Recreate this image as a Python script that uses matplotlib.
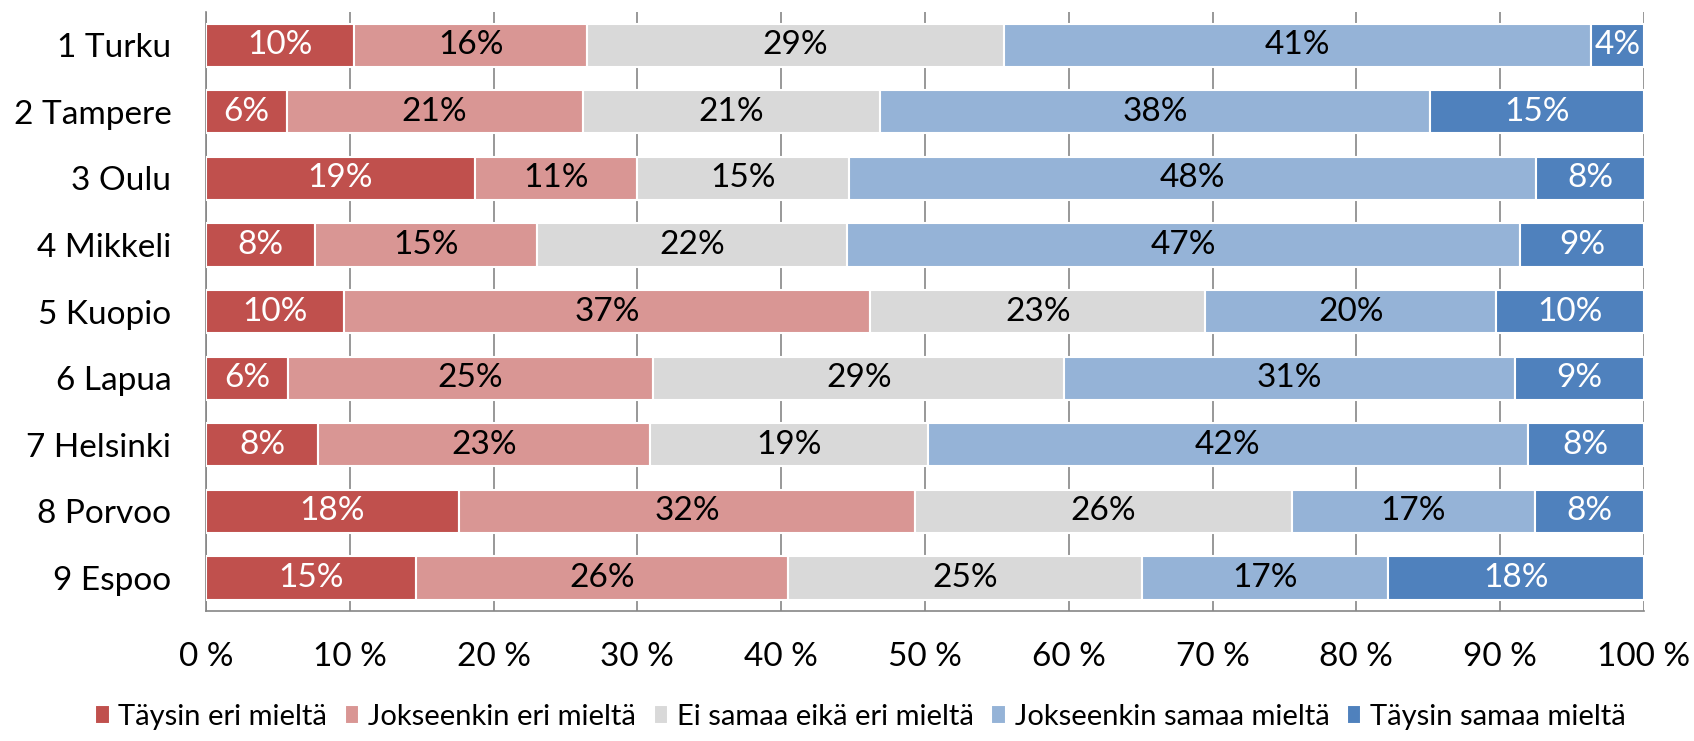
import matplotlib
matplotlib.use("Agg")
import matplotlib.pyplot as plt
import numpy as np

categories = ["1 Turku", "2 Tampere", "3 Oulu", "4 Mikkeli", "5 Kuopio",
              "6 Lapua", "7 Helsinki", "8 Porvoo", "9 Espoo"]
series_names = ["Täysin eri mieltä", "Jokseenkin eri mieltä", "Ei samaa eikä eri mieltä",
                "Jokseenkin samaa mieltä", "Täysin samaa mieltä"]
taysin_eri = [10.3, 5.6, 18.7, 7.6, 9.6, 5.7, 7.8, 17.6, 14.6]
jokseenkin_eri = [16.2, 20.6, 11.3, 15.4, 36.6, 25.4, 23.1, 31.7, 25.9]
ei_samaa = [29.0, 20.7, 14.7, 21.6, 23.3, 28.6, 19.3, 26.2, 24.6]
jokseenkin_samaa = [40.8, 38.2, 47.8, 46.8, 20.2, 31.3, 41.7, 16.9, 17.1]
taysin_samaa = [3.7, 14.9, 7.6, 8.6, 10.3, 9.0, 8.1, 7.6, 17.8]
xtick_labels = ["0 %", "10 %", "20 %", "30 %", "40 %", "50 %", "60 %", "70 %", "80 %", "90 %", "100 %"]

colors = ["#C0504D", "#D99694", "#D9D9D9", "#95B3D7", "#4F81BD"]
text_colors = ["white", "black", "black", "black", "white"]

plt.rcParams['font.family'] = ['Lato', 'DejaVu Sans']

fig = plt.figure(figsize=(16.94, 7.41), dpi=100)
ax = fig.add_axes([0.1216, 0.175, 0.9705 - 0.1216, 0.984 - 0.175])

data = [taysin_eri, jokseenkin_eri, ei_samaa, jokseenkin_samaa, taysin_samaa]
y = np.arange(len(categories))
left = np.zeros(len(categories))
for vals, name, c, tc in zip(data, series_names, colors, text_colors):
    vals = np.array(vals)
    ax.barh(y, vals, left=left, height=0.65, color=c, edgecolor='white',
            linewidth=1.5, label=name, zorder=3)
    for yi, l, v in zip(y, left, vals):
        ax.text(l + v / 2, yi, f"{v:.0f}%", ha='center', va='center',
                color=tc, fontsize=24, zorder=4)
    left += vals

ax.set_xlim(0, 100)
ax.set_ylim(len(categories) - 0.5, -0.5)
ax.set_yticks(y)
ax.set_yticklabels(categories, fontsize=24)
ax.set_xticks(np.arange(0, 101, 10))
ax.set_xticklabels(xtick_labels, fontsize=24)
ax.tick_params(axis='both', length=0)
ax.tick_params(axis='x', pad=22)
ax.tick_params(axis='y', pad=25)
ax.grid(axis='x', color='#868686', linewidth=1.2, zorder=0)
for s in ['top', 'right']:
    ax.spines[s].set_visible(False)
for s in ['left', 'bottom']:
    ax.spines[s].set_color('#868686')
    ax.spines[s].set_linewidth(1.2)

fig.legend(loc='center', bbox_to_anchor=(0.508, 0.033), ncol=5, frameon=False,
           fontsize=21, handlelength=0.5, handleheight=0.6, handletextpad=0.3,
           columnspacing=0.6)

fig.savefig("out.png", dpi=100)
